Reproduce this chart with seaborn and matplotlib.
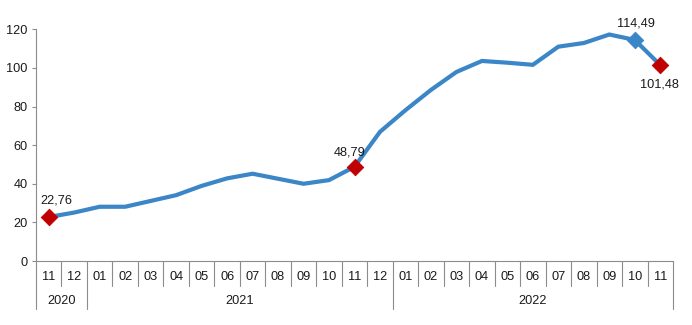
import numpy as np
import pandas as pd
import matplotlib
matplotlib.use("Agg")
import matplotlib.pyplot as plt
import seaborn as sns

# ---- data ----
months = ["11", "12",
          "01", "02", "03", "04", "05", "06", "07", "08", "09", "10", "11", "12",
          "01", "02", "03", "04", "05", "06", "07", "08", "09", "10", "11"]
years = ["2020", "2021", "2022"]
year_counts = [2, 12, 11]
values = [22.76, 25.1,
          28.1, 28.1, 31.1, 34.1, 38.9, 42.8, 45.2, 42.6, 40.0, 41.9, 48.79, 66.9,
          78.1, 88.6, 97.9, 103.6, 102.7, 101.6, 111.0, 112.9, 117.3, 114.49, 101.48]
labelled = {0: "22,76", 12: "48,79", 23: "114,49", 24: "101,48"}
red_points = [0, 12, 24]
blue_points = [23]

df = pd.DataFrame({"idx": np.arange(len(values)), "value": values})

sns.set_style("white")
plt.rcParams["font.family"] = ["Liberation Sans", "DejaVu Sans"]

BLUE = "#3A86C6"
RED = "#C00000"
GRAY = "#8C8C8C"
TXT = "#1A1A1A"
FS = 9.2

fig = plt.figure(figsize=(6.92, 3.25), dpi=100)
W, H = 692, 325
ax = fig.add_axes([36 / W, 1 - 261 / H, (673 - 36) / W, (261 - 29.3) / H])

sns.lineplot(data=df, x="idx", y="value", ax=ax, color=BLUE, linewidth=3.0,
             solid_joinstyle="miter", zorder=3)
sub_r = df.iloc[red_points]
sns.scatterplot(data=sub_r, x="idx", y="value", ax=ax, color=RED, marker="D",
                s=70, edgecolor=RED, zorder=4)
sub_b = df.iloc[blue_points]
sns.scatterplot(data=sub_b, x="idx", y="value", ax=ax, color=BLUE, marker="D",
                s=70, edgecolor=BLUE, zorder=4)

n = len(values)
ax.set_xlim(-0.5, n - 0.5)
ax.set_ylim(0, 120)
ax.set_yticks(np.arange(0, 121, 20))
ax.set_xticks([])
ax.set_xlabel("")
ax.set_ylabel("")
ax.tick_params(axis="y", direction="out", length=3, width=0.8, color=GRAY,
               labelsize=FS, labelcolor=TXT, pad=3, left=True)
for s in ["top", "right"]:
    ax.spines[s].set_visible(False)
for s in ["left", "bottom"]:
    ax.spines[s].set_color(GRAY)
    ax.spines[s].set_linewidth(0.8)

# multi-level category axis
ph = 261 - 29.3
trans = ax.get_xaxis_transform()
month_depth = -25 / ph
year_depth = -48 / ph
year_bounds = np.cumsum([0] + year_counts) - 0.5
for k in range(n + 1):
    xb = k - 0.5
    depth = year_depth if xb in year_bounds else month_depth
    ax.plot([xb, xb], [0, depth], transform=trans, color=GRAY, lw=0.8,
            clip_on=False, zorder=1)
for i, m in enumerate(months):
    ax.text(i, -16.5 / ph, m, transform=trans, ha="center", va="center",
            fontsize=FS, color=TXT)
for y, a, b in zip(years, year_bounds[:-1], year_bounds[1:]):
    ax.text((a + b) / 2, -40.5 / ph, y, transform=trans, ha="center",
            va="center", fontsize=FS, color=TXT)

# data labels
offsets = {0: (5.8, 12.2), 12: (-3.6, 10.2), 23: (0.5, 11.5), 24: (-0.8, -13.7)}
for i, lab in labelled.items():
    ax.annotate(lab, (i, values[i]), xytext=offsets[i], textcoords="offset points",
                ha="center", va="center", fontsize=FS, color=TXT)

fig.savefig("out.png", dpi=100, facecolor="white")
